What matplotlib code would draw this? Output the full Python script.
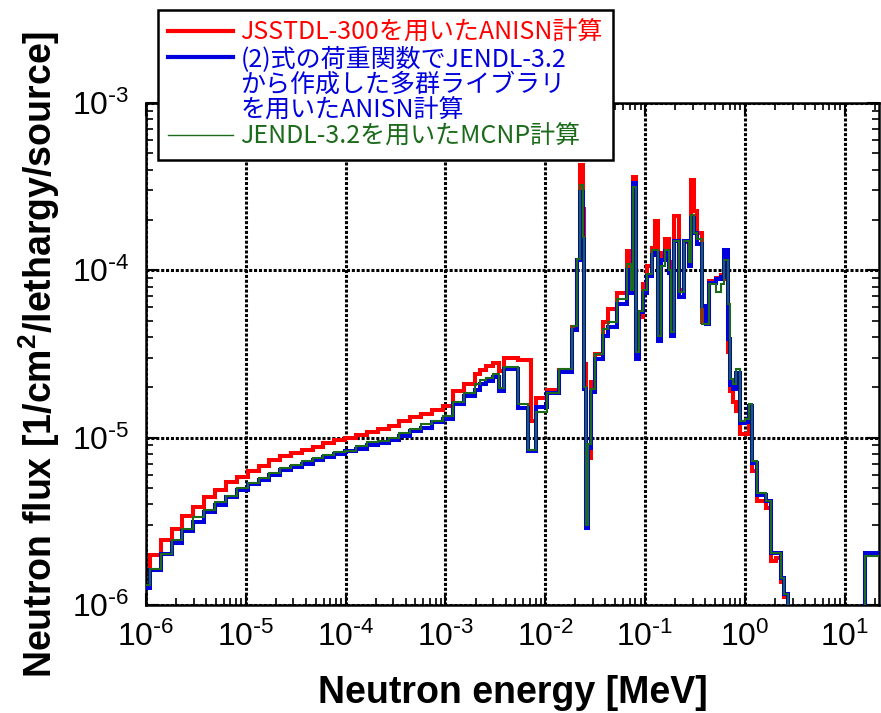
import numpy as np
import matplotlib.pyplot as plt
from matplotlib.lines import Line2D
from matplotlib.ticker import LogLocator, NullFormatter, FuncFormatter
from matplotlib import font_manager

# group boundaries [MeV]
energy_edges = [
    8.0e-7, 1.10e-6, 1.41e-6, 1.81e-6, 2.32e-6, 2.98e-6, 3.83e-6, 4.91e-6, 6.31e-6, 8.11e-6,
    1.04e-5, 1.34e-5, 1.71e-5, 2.20e-5, 2.83e-5, 3.63e-5, 4.67e-5, 5.98e-5, 7.69e-5, 9.89e-5,
    1.27e-4, 1.63e-4, 2.09e-4, 2.69e-4, 3.44e-4, 4.43e-4, 5.69e-4, 7.30e-4, 9.38e-4, 1.20e-3,
    1.55e-3, 1.98e-3,
    2.24e-3, 2.57e-3, 2.97e-3, 3.47e-3, 3.89e-3, 5.28e-3, 6.65e-3, 7.19e-3, 8.07e-3, 1.05e-2,
    1.38e-2, 1.87e-2, 2.10e-2, 2.22e-2, 2.36e-2, 2.44e-2, 2.53e-2, 2.66e-2, 2.88e-2, 3.16e-2,
    3.74e-2, 4.20e-2, 5.28e-2, 6.65e-2, 7.24e-2, 7.53e-2, 8.07e-2, 8.71e-2, 9.55e-2, 0.104,
    0.117, 0.126, 0.133, 0.144, 0.159, 0.174, 0.182, 0.193, 0.217, 0.244,
    0.274, 0.285, 0.308, 0.333, 0.373, 0.404, 0.437, 0.509, 0.573, 0.618,
    0.679, 0.711, 0.750, 0.811, 0.891, 1.00, 1.10, 1.18, 1.33, 1.61,
    1.81, 2.03, 2.28, 2.45, 2.71, 15.8, 22.0]

# JSSTDL-300 / ANISN
flux_jsstdl = [
    1.56e-6, 1.99e-6, 2.43e-6, 2.83e-6, 3.41e-6, 3.84e-6, 4.41e-6, 4.89e-6, 5.42e-6, 5.81e-6,
    6.28e-6, 6.81e-6, 7.40e-6, 7.76e-6, 8.09e-6, 8.49e-6, 8.75e-6, 9.29e-6, 9.64e-6, 9.95e-6,
    1.04e-5, 1.08e-5, 1.13e-5, 1.18e-5, 1.25e-5, 1.32e-5, 1.39e-5, 1.47e-5, 1.54e-5, 1.90e-5,
    2.08e-5,
    2.39e-5, 2.52e-5, 2.68e-5, 2.81e-5, 2.50e-5, 2.98e-5, 2.90e-5, 2.90e-5, 1.26e-5, 1.73e-5,
    1.93e-5, 2.54e-5, 4.57e-5, 1.16e-4, 4.27e-4, 2.34e-4, 2.75e-5, 3.55e-6, 7.59e-6, 2.15e-5,
    3.16e-5, 4.89e-5, 5.86e-5, 7.36e-5, 1.30e-4, 7.94e-5, 3.63e-4, 3.16e-5, 5.25e-5, 8.26e-5,
    1.06e-4, 1.36e-4, 1.96e-4, 4.17e-5, 1.27e-4, 1.53e-4, 1.12e-4, 4.27e-5, 2.10e-4, 7.59e-5,
    1.48e-4, 1.06e-4, 3.48e-4, 2.25e-4, 1.67e-4, 4.89e-5, 5.37e-5, 8.65e-5, 9.06e-5, 9.33e-5,
    8.91e-5, 3.24e-5, 1.91e-5, 1.64e-5, 1.45e-5, 1.05e-5, 1.05e-5, 1.26e-5, 6.31e-6, 4.17e-6,
    3.80e-6, 1.82e-6, 1.91e-6, 1.38e-6, 1.12e-6, 1.0e-7, 2.00e-6]

# (2) weighting function, JENDL-3.2 multigroup library / ANISN
flux_jendl_anisn = [
    1.27e-6, 1.61e-6, 2.03e-6, 2.36e-6, 2.78e-6, 3.15e-6, 3.58e-6, 3.96e-6, 4.41e-6, 4.88e-6,
    5.27e-6, 5.55e-6, 6.00e-6, 6.43e-6, 6.64e-6, 6.98e-6, 7.38e-6, 7.66e-6, 7.98e-6, 8.28e-6,
    8.55e-6, 8.99e-6, 9.29e-6, 9.73e-6, 1.03e-5, 1.09e-5, 1.15e-5, 1.24e-5, 1.29e-5, 1.60e-5,
    1.77e-5,
    1.94e-5, 2.08e-5, 2.18e-5, 2.30e-5, 1.91e-5, 2.56e-5, 1.51e-5, 8.37e-6, 8.37e-6, 1.53e-5,
    1.84e-5, 2.48e-5, 4.43e-5, 1.16e-4, 2.95e-4, 1.53e-4, 1.96e-5, 2.88e-6, 8.65e-6, 1.87e-5,
    2.96e-5, 4.07e-5, 4.56e-5, 6.28e-5, 1.01e-4, 7.36e-5, 3.32e-4, 2.96e-5, 5.62e-5, 7.36e-5,
    9.25e-5, 1.24e-4, 1.27e-4, 3.80e-5, 1.16e-4, 1.30e-4, 9.68e-5, 4.07e-5, 1.49e-4, 6.89e-5,
    1.49e-4, 1.06e-4, 2.06e-4, 1.67e-4, 1.43e-4, 6.14e-5, 4.79e-5, 8.45e-5, 8.85e-5, 9.12e-5,
    1.33e-4, 3.89e-5, 2.06e-5, 1.96e-5, 2.45e-5, 1.23e-5, 1.24e-5, 1.55e-5, 7.08e-6, 4.57e-6,
    4.17e-6, 2.04e-6, 2.04e-6, 1.45e-6, 1.17e-6, 1.0e-7, 2.04e-6]

# JENDL-3.2 / MCNP
flux_mcnp = [
    1.32e-6, 1.65e-6, 2.03e-6, 2.43e-6, 2.85e-6, 3.34e-6, 3.71e-6, 4.11e-6, 4.51e-6, 4.99e-6,
    5.35e-6, 5.78e-6, 6.19e-6, 6.58e-6, 6.82e-6, 7.21e-6, 7.55e-6, 7.83e-6, 8.20e-6, 8.36e-6,
    8.87e-6, 9.42e-6, 9.59e-6, 1.00e-5, 1.07e-5, 1.13e-5, 1.20e-5, 1.25e-5, 1.34e-5, 1.63e-5,
    1.84e-5,
    2.08e-5, 2.20e-5, 2.28e-5, 2.39e-5, 1.99e-5, 2.64e-5, 1.58e-5, 8.49e-6, 8.49e-6, 1.43e-5,
    1.86e-5, 2.57e-5, 4.68e-5, 1.17e-4, 3.24e-4, 1.58e-4, 2.00e-5, 3.02e-6, 9.12e-6, 1.96e-5,
    3.16e-5, 4.47e-5, 4.89e-5, 6.73e-5, 1.09e-4, 7.59e-5, 3.16e-4, 3.24e-5, 5.75e-5, 7.59e-5,
    9.55e-5, 1.33e-4, 1.33e-4, 4.07e-5, 1.06e-4, 1.33e-4, 1.00e-4, 4.27e-5, 1.49e-4, 7.41e-5,
    1.49e-4, 1.12e-4, 2.15e-4, 1.67e-4, 1.53e-4, 4.79e-5, 4.79e-5, 8.26e-5, 7.41e-5, 8.26e-5,
    1.16e-4, 6.31e-5, 2.24e-5, 2.09e-5, 2.58e-5, 1.26e-5, 1.29e-5, 1.58e-5, 7.24e-6, 4.68e-6,
    4.17e-6, 2.04e-6, 2.04e-6, 1.45e-6, 1.17e-6, 1.0e-7, 1.95e-6]

labels = ['JSSTDL-300を用いたANISN計算',
          '(2)式の荷重関数でJENDL-3.2',
          'から作成した多群ライブラリ',
          'を用いたANISN計算',
          'JENDL-3.2を用いたMCNP計算']

red = '#ff0000'
blue = '#0000dd'
green = '#1b6b1b'

plt.rcParams['font.family'] = ['Liberation Sans', 'DejaVu Sans']
names = {f.name for f in font_manager.fontManager.ttflist}
tick_font = 'Liberation Sans Narrow' if 'Liberation Sans Narrow' in names else 'Liberation Sans'


def pow_label(v, pos):
    # 10^n with a plain hyphen, as in the original
    e = int(round(np.log10(v)))
    if e < 0:
        return r'$\mathdefault{10^{\text{-}%d}}$' % (-e)
    return r'$\mathdefault{10^{%d}}$' % e


fig = plt.figure(figsize=(8.81, 7.13), dpi=100)
ax = fig.add_axes([146/881, 1 - 605/713, (879 - 146)/881, (605 - 103)/713])

ax.stairs(flux_jsstdl, energy_edges, baseline=None, color=red, lw=2.9, zorder=2)
ax.stairs(flux_jendl_anisn, energy_edges, baseline=None, color=blue, lw=2.9, zorder=3)
ax.stairs(flux_mcnp, energy_edges, baseline=None, color=green, lw=1.5, zorder=4)

ax.set_xscale('log')
ax.set_yscale('log')
ax.set_xlim(1e-6, 22)
ax.set_ylim(1e-6, 1e-3)

for axis in (ax.xaxis, ax.yaxis):
    axis.set_major_locator(LogLocator(base=10, numticks=20))
    axis.set_minor_locator(LogLocator(base=10, subs=np.arange(2, 10), numticks=20))
    axis.set_major_formatter(FuncFormatter(pow_label))
    axis.set_minor_formatter(NullFormatter())

ax.tick_params(which='both', direction='in', top=True, right=True)
ax.tick_params(which='major', length=9, width=1.5, labelsize=23, pad=12,
               labelfontfamily=tick_font)
ax.tick_params(which='minor', length=5, width=1.2)
for s in ax.spines.values():
    s.set_linewidth(1.8)

ax.grid(which='major', color='black', linestyle=(0, (1.0, 0.6)), linewidth=2.2)

ax.set_xlabel('Neutron energy [MeV]', fontsize=27, fontweight='bold')
ax.set_ylabel('Neutron flux [1/cm$^{\\mathdefault{2}}$/lethargy/source]',
              fontsize=27, fontweight='bold')
ax.xaxis.set_label_coords(0.5, (605 - 675)/502)
ax.yaxis.set_label_coords((62 - 146)/733, 0.5)

handles = [Line2D([], [], color=red, lw=3),
           Line2D([], [], color=blue, lw=3),
           Line2D([], [], color='none'),
           Line2D([], [], color='none'),
           Line2D([], [], color=green, lw=1)]
leg = fig.legend(handles, labels, loc='upper left',
                 bbox_to_anchor=(158/881, 1 - 10/713),
                 prop={'family': ['Noto Sans CJK JP', 'DejaVu Sans'], 'size': 18},
                 frameon=True, fancybox=False, edgecolor='black', framealpha=1,
                 borderpad=0.4, labelspacing=0.0, handlelength=2.6,
                 handletextpad=0.3, borderaxespad=0)
leg.get_frame().set_linewidth(1.8)
for t, c in zip(leg.get_texts(), [red, blue, blue, blue, green]):
    t.set_color(c)

fig.savefig('out.png', dpi=100)
